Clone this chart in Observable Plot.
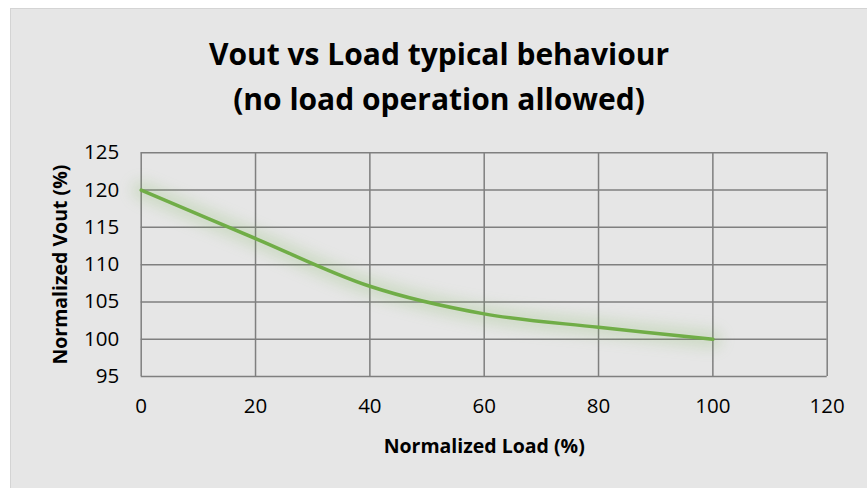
<!DOCTYPE html>
<html>
<head>
<meta charset="utf-8">
<script src="https://cdn.jsdelivr.net/npm/d3@7"></script>
<script src="https://cdn.jsdelivr.net/npm/@observablehq/plot@0.6"></script>
<style>
  html, body { margin: 0; padding: 0; background: #ffffff; }
  #chart {
    position: absolute; left: 10px; top: 8px; width: 857px; height: 480px;
    background: #e6e6e6; border-left: 1px solid #d4d4d4; border-top: 1px solid #d4d4d4;
    box-sizing: border-box; overflow: hidden;
  }
  #title {
    position: absolute; left: 0; width: 100%; top: 22px; text-align: center;
    font-family: "Open Sans", sans-serif; font-weight: bold; font-size: 30px; line-height: 45px;
    color: #000;
  }
  #plot { position: absolute; left: -1px; top: -1px; }
</style>
</head>
<body>
<div id="chart">
  <div id="plot"></div>
  <div id="title">Vout vs Load typical behaviour<br>(no load operation allowed)</div>
</div>
<script>
const load = [0, 20, 40, 60, 80, 100];
const vout = [120, 113.5, 107.1, 103.4, 101.6, 100];
const xTicks = [0, 20, 40, 60, 80, 100, 120];
const yTicks = [95, 100, 105, 110, 115, 120, 125];
const xLabel = "Normalized Load (%)";
const yLabel = "Normalized Vout (%)";

const data = load.map((x, i) => ({x, y: vout[i]}));
const green = "#70ad47";
const gridColor = "#7f7f7f";

const plot = Plot.plot({
  width: 857,
  height: 480,
  marginLeft: 130.7,
  marginRight: 40.3,
  marginTop: 144.3,
  marginBottom: 112,
  style: {background: "transparent", fontFamily: "Open Sans, sans-serif", fontSize: "20px", color: "#000"},
  x: {domain: [0, 120]},
  y: {domain: [95, 125]},
  marks: [
    Plot.gridX(xTicks, {stroke: gridColor, strokeOpacity: 1, strokeWidth: 1.5}),
    Plot.gridY(yTicks, {stroke: gridColor, strokeOpacity: 1, strokeWidth: 1.5}),
    Plot.line(data, {x: "x", y: "y", curve: "catmull-rom", stroke: green, strokeWidth: 18, strokeOpacity: 0.2}),
    Plot.line(data, {x: "x", y: "y", curve: "catmull-rom", stroke: green, strokeWidth: 3.5}),
    Plot.axisX(xTicks, {tickSize: 0, tickPadding: 22, label: null, fontSize: 20.5}),
    Plot.axisY(yTicks, {tickSize: 0, tickPadding: 22, label: null, fontSize: 20.5}),
    Plot.text([xLabel], {frameAnchor: "bottom", textAnchor: "middle", dy: 76, fontWeight: "bold", fontSize: 19.5}),
    Plot.text([yLabel], {frameAnchor: "left", textAnchor: "middle", dx: -80, rotate: -90, fontWeight: "bold", fontSize: 19.5})
  ]
});
document.getElementById("plot").appendChild(plot);
const lines = plot.querySelectorAll('g[aria-label="line"]');
if (lines.length) lines[0].style.filter = "blur(7px)";
</script>
</body>
</html>
